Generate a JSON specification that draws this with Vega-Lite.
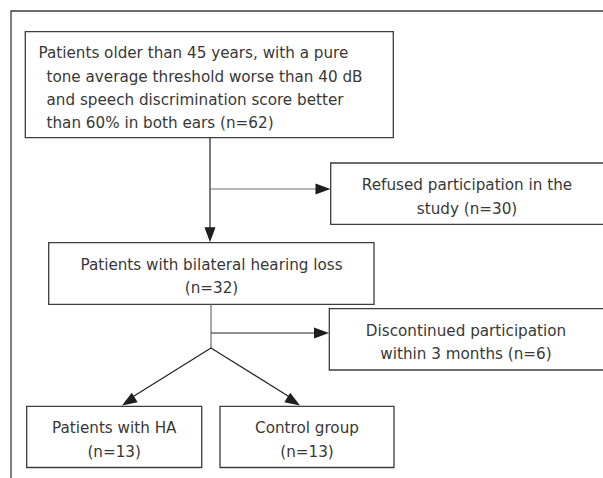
{
  "$schema": "https://vega.github.io/schema/vega-lite/v6.json",
  "width": 603,
  "height": 478,
  "padding": 0,
  "autosize": {"type": "fit", "contains": "padding"},
  "background": "white",
  "config": {"view": {"stroke": null}},
  "datasets": {
    "boxes": [
      {"id": "frame", "x": 11, "y": 11, "x2": 620, "y2": 500, "fill": "transparent"},
      {"id": "b1", "x": 25.3, "y": 31.7, "x2": 393.3, "y2": 137.7, "fill": "white"},
      {"id": "refused", "x": 330.7, "y": 163, "x2": 620, "y2": 224.3, "fill": "white"},
      {"id": "b2", "x": 48.7, "y": 242.7, "x2": 374, "y2": 304.3, "fill": "white"},
      {"id": "disc", "x": 329.3, "y": 308.7, "x2": 620, "y2": 370, "fill": "white"},
      {"id": "ha", "x": 26.7, "y": 406.3, "x2": 201.7, "y2": 467.5, "fill": "white"},
      {"id": "ctrl", "x": 220, "y": 406.3, "x2": 394, "y2": 467.5, "fill": "white"}
    ],
    "lines": [
      {"x": 210, "y": 137.7, "x2": 210, "y2": 236, "tone": "dark"},
      {"x": 210, "y": 189, "x2": 322, "y2": 189, "tone": "gray"},
      {"x": 211, "y": 304.3, "x2": 211, "y2": 348, "tone": "gray"},
      {"x": 211, "y": 333, "x2": 322, "y2": 333, "tone": "dark"},
      {"x": 211, "y": 348, "x2": 126, "y2": 401, "tone": "dark"},
      {"x": 211, "y": 348, "x2": 296, "y2": 401, "tone": "dark"}
    ],
    "arrows": [
      {"x": 210, "y": 242.2, "angle": 0},
      {"x": 330.5, "y": 189, "angle": 270},
      {"x": 329, "y": 333, "angle": 270},
      {"x": 122, "y": 405.5, "angle": 58},
      {"x": 300, "y": 405.5, "angle": 302}
    ],
    "texts": [
      {"x": 38.5, "y": 53, "t": "Patients older than 45 years, with a pure", "a": "left"},
      {"x": 46.5, "y": 76.5, "t": "tone average threshold worse than 40 dB", "a": "left"},
      {"x": 46.5, "y": 99.5, "t": "and speech discrimination score better", "a": "left"},
      {"x": 46.5, "y": 122.5, "t": "than 60% in both ears (n=62)", "a": "left"},
      {"x": 467, "y": 185, "t": "Refused participation in the", "a": "center"},
      {"x": 467, "y": 208.5, "t": "study (n=30)", "a": "center"},
      {"x": 211.5, "y": 264.5, "t": "Patients with bilateral hearing loss", "a": "center"},
      {"x": 211.5, "y": 288, "t": "(n=32)", "a": "center"},
      {"x": 466, "y": 330.5, "t": "Discontinued participation", "a": "center"},
      {"x": 466, "y": 354, "t": "within 3 months (n=6)", "a": "center"},
      {"x": 114.2, "y": 428, "t": "Patients with HA", "a": "center"},
      {"x": 114.2, "y": 451.5, "t": "(n=13)", "a": "center"},
      {"x": 307, "y": 428, "t": "Control group", "a": "center"},
      {"x": 307, "y": 451.5, "t": "(n=13)", "a": "center"}
    ]
  },
  "layer": [
    {
      "data": {"name": "boxes"},
      "mark": {"type": "rect", "clip": true, "stroke": "#3c3c3c", "strokeWidth": 1.3},
      "encoding": {
        "x": {"field": "x", "type": "quantitative", "scale": {"domain": [0, 603], "nice": false, "zero": false}, "axis": null},
        "x2": {"field": "x2"},
        "y": {"field": "y", "type": "quantitative", "scale": {"domain": [0, 478], "nice": false, "zero": false, "reverse": true}, "axis": null},
        "y2": {"field": "y2"},
        "fill": {"field": "fill", "type": "nominal", "scale": null, "legend": null}
      }
    },
    {
      "data": {"name": "lines"},
      "mark": {"type": "rule", "strokeWidth": 1.2},
      "encoding": {
        "x": {"field": "x", "type": "quantitative"},
        "x2": {"field": "x2"},
        "y": {"field": "y", "type": "quantitative"},
        "y2": {"field": "y2"},
        "color": {"field": "tone", "type": "nominal", "scale": {"domain": ["dark", "gray"], "range": ["#222222", "#6e6e6e"]}, "legend": null}
      }
    },
    {
      "data": {"name": "arrows"},
      "mark": {"type": "point", "filled": true, "shape": "M0,0L-0.37,-1L0.37,-1Z", "size": 900, "color": "#1e1e1e", "opacity": 1, "strokeWidth": 0},
      "encoding": {
        "x": {"field": "x", "type": "quantitative"},
        "y": {"field": "y", "type": "quantitative"},
        "angle": {"field": "angle", "type": "quantitative", "scale": null}
      }
    },
    {
      "data": {"name": "texts"},
      "transform": [{"filter": "datum.a === 'left'"}],
      "mark": {"type": "text", "align": "left", "baseline": "middle", "font": "DejaVu Sans", "fontSize": 15.2, "color": "#383838"},
      "encoding": {
        "x": {"field": "x", "type": "quantitative"},
        "y": {"field": "y", "type": "quantitative"},
        "text": {"field": "t", "type": "nominal"}
      }
    },
    {
      "data": {"name": "texts"},
      "transform": [{"filter": "datum.a === 'center'"}],
      "mark": {"type": "text", "align": "center", "baseline": "middle", "font": "DejaVu Sans", "fontSize": 15.2, "color": "#383838"},
      "encoding": {
        "x": {"field": "x", "type": "quantitative"},
        "y": {"field": "y", "type": "quantitative"},
        "text": {"field": "t", "type": "nominal"}
      }
    }
  ]
}
